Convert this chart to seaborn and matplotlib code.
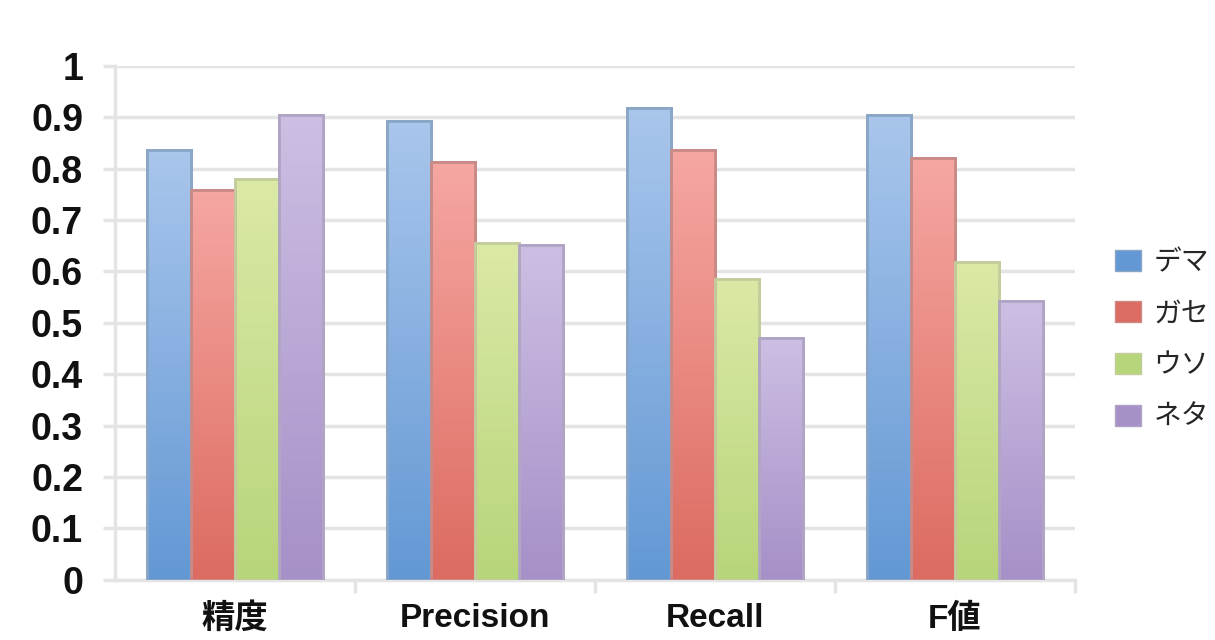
import numpy as np
import pandas as pd
import matplotlib
matplotlib.use("Agg")
import matplotlib.pyplot as plt
import matplotlib.patches as mpatches
from matplotlib.colors import LinearSegmentedColormap
import seaborn as sns

# Evaluation scores per metric for each class
metrics = ["精度", "Precision", "Recall", "F値"]
series = ["デマ", "ガセ", "ウソ", "ネタ"]
dema = [0.837, 0.892, 0.918, 0.905]
gase = [0.759, 0.813, 0.837, 0.820]
uso = [0.779, 0.655, 0.586, 0.619]
neta = [0.905, 0.652, 0.471, 0.542]
y_ticks = [0, 0.1, 0.2, 0.3, 0.4, 0.5, 0.6, 0.7, 0.8, 0.9, 1]
y_tick_labels = ["0", "0.1", "0.2", "0.3", "0.4", "0.5", "0.6", "0.7", "0.8", "0.9", "1"]

# top / bottom shades of each series' gradient, plus edge colour
shades = {
    "デマ": ("#a9c6ec", "#6398d4", "#8aa6c6"),
    "ガセ": ("#f6a7a2", "#dc6b61", "#c98a86"),
    "ウソ": ("#dbe9a6", "#b7d57a", "#c2cc9c"),
    "ネタ": ("#cdbfe3", "#a690c8", "#b0a4c4"),
}

df = pd.DataFrame({
    "metric": np.repeat(metrics, len(series)),
    "series": series * len(metrics),
    "value": np.ravel(np.column_stack([dema, gase, uso, neta])),
})

sns.set_theme(style="white")
plt.rcParams["font.family"] = ["Liberation Sans", "Noto Sans CJK JP", "DejaVu Sans"]

fig = plt.figure(figsize=(12.15, 6.4), dpi=100)
ax = fig.add_axes([0.0947, 0.094, 0.790, 0.803])

palette = {s: shades[s][1] for s in series}
sns.barplot(data=df, x="metric", y="value", hue="series", order=metrics,
            hue_order=series, palette=palette, width=0.73, dodge=True,
            saturation=1, legend=False, ax=ax, zorder=3)

# vertical gradient fill clipped to each bar
grad = np.linspace(0, 1, 256).reshape(-1, 1)
for container, s in zip(ax.containers, series):
    top, bottom, edge = shades[s]
    cmap = LinearSegmentedColormap.from_list(s, [top, bottom])
    for bar in container:
        x, w, h = bar.get_x(), bar.get_width(), bar.get_height()
        bar.set_edgecolor(edge)
        bar.set_linewidth(2.0)
        im = ax.imshow(grad, cmap=cmap, extent=[x, x + w, 0, h],
                       aspect="auto", origin="upper", zorder=3.5,
                       interpolation="bicubic")
        im.set_clip_path(bar)
        outline = mpatches.Rectangle((x, 0), w, h, fill=False,
                                     edgecolor=edge, linewidth=2.0, zorder=3.6)
        ax.add_patch(outline)

ax.set_xlim(-0.5, 3.5)
ax.set_ylim(0, 1)
ax.set_yticks(y_ticks)
ax.set_yticklabels(y_tick_labels)
ax.set_xlabel("")
ax.set_ylabel("")

ax.yaxis.grid(True, color="#e4e4e4", linewidth=2.5, zorder=0)
ax.set_axisbelow(True)
for side in ("top", "right"):
    ax.spines[side].set_visible(False)
for side in ("left", "bottom"):
    ax.spines[side].set_color("#e4e4e4")
    ax.spines[side].set_linewidth(2.5)

ax.tick_params(axis="y", length=9, width=2.5, color="#e4e4e4", pad=14,
               labelsize=27, left=True)
ax.tick_params(axis="x", length=0, pad=17, labelsize=24)
ax.set_xticks(range(len(metrics)))
ax.set_xticklabels(metrics)
ax.set_xticks([0.5, 1.5, 2.5, 3.5], minor=True)
ax.tick_params(axis="x", which="minor", length=9, width=2.5, color="#e4e4e4",
               bottom=True)
for lab in ax.get_yticklabels() + ax.get_xticklabels():
    lab.set_fontweight("bold")
    lab.set_color("#111111")

handles = [mpatches.Patch(facecolor=shades[s][1], edgecolor=shades[s][2], label=s)
           for s in series]
fig.legend(handles=handles, loc="upper left", bbox_to_anchor=(0.906, 0.636),
           frameon=False, handlelength=0.95, handleheight=0.8,
           handletextpad=0.45, labelspacing=0.78, borderpad=0,
           prop={"family": ["Noto Sans CJK JP"], "size": 20})

fig.savefig("out.png", dpi=100)
